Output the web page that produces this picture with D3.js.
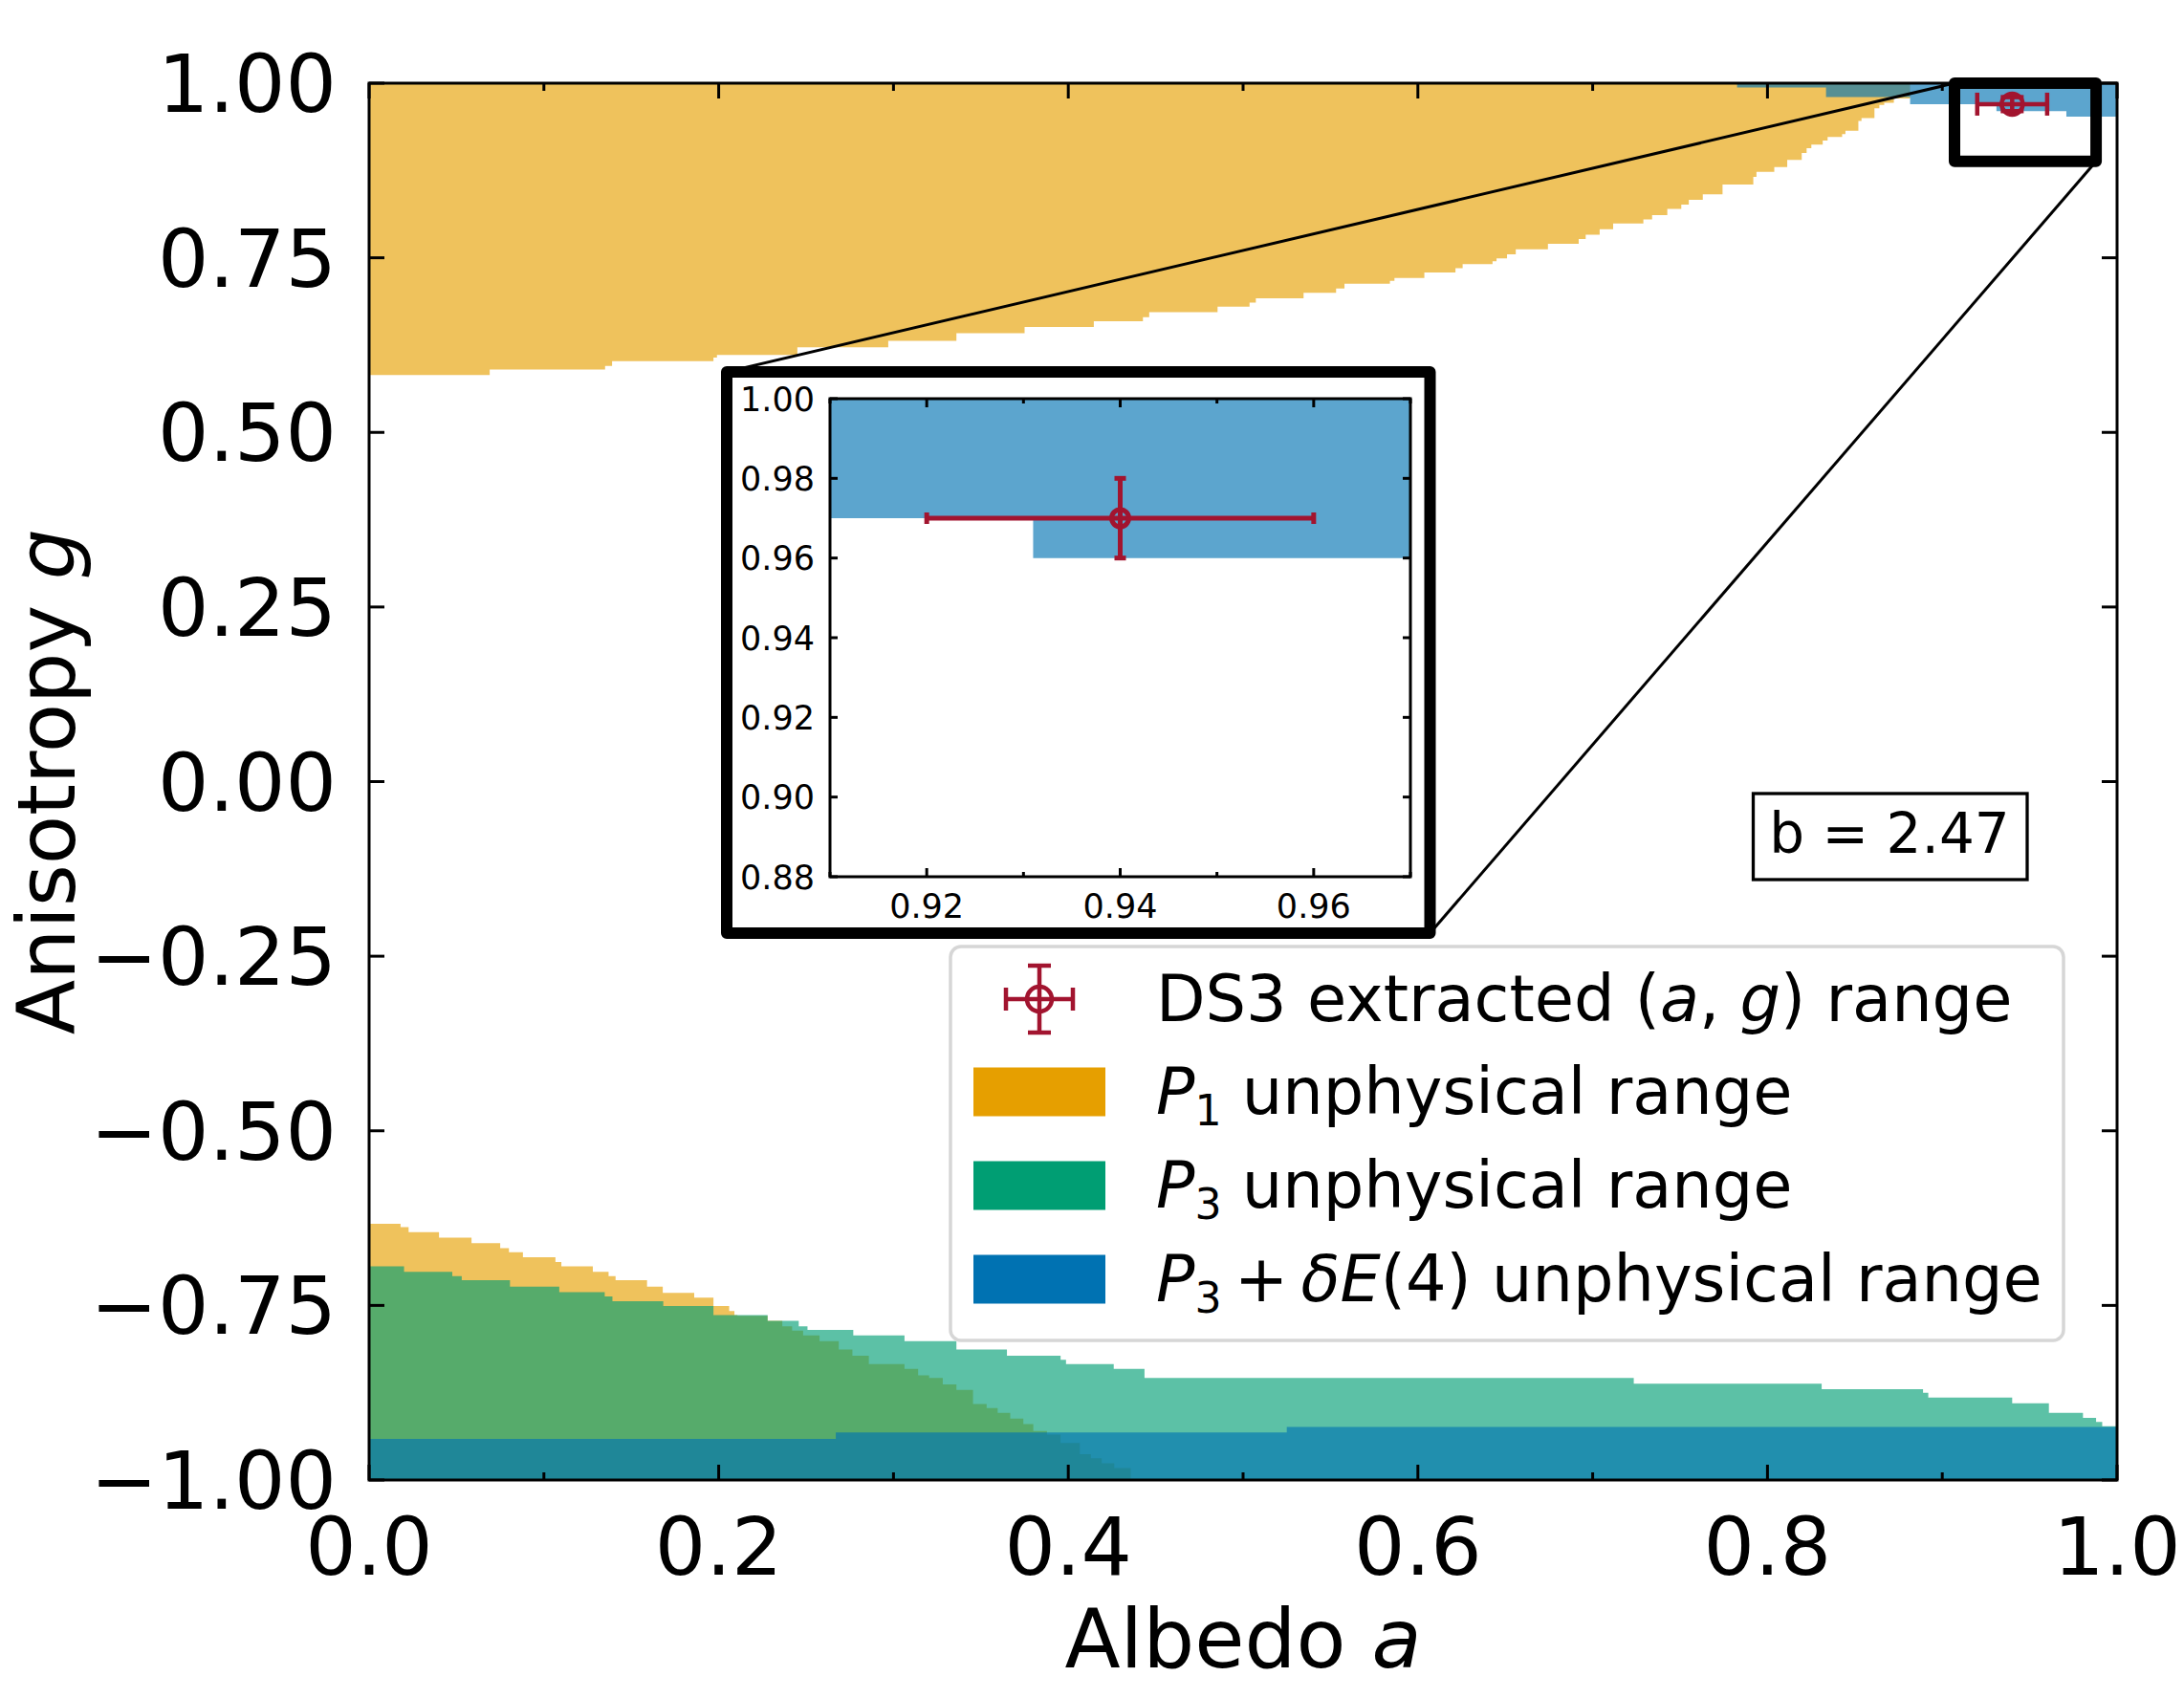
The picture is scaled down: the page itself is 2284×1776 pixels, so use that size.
<!DOCTYPE html>
<html><head><meta charset="utf-8">
<script src="https://cdn.jsdelivr.net/npm/d3@7"></script>
<style>body{margin:0;background:#fff}svg{display:block}text{font-family:'DejaVu Sans',sans-serif;fill:#000}</style>
</head><body>
<svg id="c" width="2284" height="1776"></svg>
<script>
// ---------------- data ----------------
const xTicksMajor = [0, 0.2, 0.4, 0.6, 0.8, 1.0];
const xTicksMinor = [0.1, 0.3, 0.5, 0.7, 0.9];
const yTicks = [-1, -0.75, -0.5, -0.25, 0, 0.25, 0.5, 0.75, 1];
const insetXTicks = [0.91, 0.92, 0.93, 0.94, 0.95, 0.96, 0.97];
const insetXLabels = [0.92, 0.94, 0.96];
const insetYTicks = [0.88, 0.90, 0.92, 0.94, 0.96, 0.98, 1.00];

// P1 unphysical: upper region (boundary -> g = 1)
const p1UpperA = [0, 0.069, 0.135, 0.139, 0.197, 0.199, 0.245, 0.297, 0.336, 0.375, 0.4146, 0.4427, 0.4463, 0.4854, 0.5037, 0.5073, 0.5346, 0.5532, 0.558, 0.584, 0.5866, 0.6037, 0.6215, 0.6256, 0.6427, 0.645, 0.651, 0.656, 0.6744, 0.692, 0.696, 0.704, 0.7117, 0.729, 0.734, 0.7427, 0.7507, 0.755, 0.763, 0.7743, 0.7919, 0.7937, 0.8039, 0.8113, 0.8196, 0.8224, 0.8251, 0.8316, 0.8344, 0.8427, 0.8446, 0.852, 0.8538, 0.8612, 0.864, 0.8668, 0.8723, 0.8816];
const p1UpperG = [0.582, 0.590, 0.595, 0.602, 0.607, 0.611, 0.622, 0.631, 0.642, 0.651, 0.659, 0.665, 0.672, 0.680, 0.686, 0.692, 0.700, 0.706, 0.713, 0.717, 0.721, 0.729, 0.735, 0.741, 0.745, 0.749, 0.755, 0.762, 0.770, 0.777, 0.783, 0.791, 0.799, 0.805, 0.811, 0.820, 0.826, 0.833, 0.841, 0.855, 0.866, 0.873, 0.880, 0.890, 0.900, 0.907, 0.912, 0.918, 0.923, 0.927, 0.932, 0.946, 0.950, 0.964, 0.969, 0.972, 0.978, 1.0];
// P1 unphysical: lower region (g = -1 -> boundary)
const p1LowerA = [0, 0.018, 0.0226, 0.040, 0.0586, 0.075, 0.080, 0.088, 0.1066, 0.110, 0.128, 0.137, 0.141, 0.159, 0.168, 0.186, 0.197, 0.206, 0.209, 0.2107, 0.228, 0.2364, 0.242, 0.2483, 0.2577, 0.2687, 0.2765, 0.2859, 0.3063, 0.3141, 0.3204, 0.3282, 0.336, 0.3455, 0.3533, 0.3596, 0.3668, 0.3743, 0.38, 0.3878, 0.3956, 0.4066, 0.4129, 0.4191, 0.4263, 0.4357];
const p1LowerG = [-0.633, -0.638, -0.645, -0.653, -0.661, -0.668, -0.674, -0.681, -0.688, -0.694, -0.702, -0.708, -0.714, -0.723, -0.732, -0.739, -0.751, -0.758, -0.764, -0.765, -0.772, -0.780, -0.786, -0.793, -0.801, -0.813, -0.822, -0.834, -0.841, -0.850, -0.854, -0.863, -0.871, -0.891, -0.897, -0.904, -0.912, -0.920, -0.930, -0.935, -0.947, -0.963, -0.969, -0.976, -0.983, -1.0];
// P3 unphysical: lower region
const p3LowerA = [0, 0.020, 0.0476, 0.053, 0.0806, 0.1088, 0.1348, 0.1392, 0.1683, 0.197, 0.228, 0.2458, 0.2508, 0.277, 0.3063, 0.336, 0.3649, 0.3956, 0.3987, 0.426, 0.4436, 0.7235, 0.831, 0.889, 0.892, 0.940, 0.961, 0.9805, 0.988, 0.9915];
const p3LowerG = [-0.694, -0.702, -0.708, -0.714, -0.723, -0.731, -0.737, -0.744, -0.751, -0.764, -0.772, -0.780, -0.785, -0.793, -0.801, -0.813, -0.822, -0.828, -0.834, -0.841, -0.854, -0.862, -0.870, -0.875, -0.882, -0.890, -0.904, -0.911, -0.917, -0.923];
// P3 + dE(4) unphysical
const dEUpperA = [0.7826, 0.8335, 0.8816, 0.931, 0.971];
const dEUpperG = [0.994, 0.980, 0.970, 0.960, 0.952];
const dELowerA = [0, 0.267, 0.525];
const dELowerG = [-0.941, -0.932, -0.924];

// DS3 extracted point
const ds3A = 0.94, ds3G = 0.97, ds3AErr = 0.02, ds3GErr = 0.01;
// zoom indicator box (data coords)
const zoomA = [0.907, 0.988];
const zoomG = [0.888, 1.0];

const bText = "b = 2.47";

const cOrange = "#E69F00", cGreen = "#009E73", cBlue = "#0072B2", cRed = "#A2142F";
const fillAlpha = 0.64;

// ---------------- scales ----------------
const svg = d3.select('#c');
const x = d3.scaleLinear().domain([0, 1]).range([386, 2214]);
const y = d3.scaleLinear().domain([-1, 1]).range([1548, 87]);
const ix = d3.scaleLinear().domain([0.91, 0.97]).range([868, 1475]);
const iy = d3.scaleLinear().domain([0.88, 1.0]).range([917, 417]);

const defs = svg.append('defs');
defs.append('clipPath').attr('id', 'clipMain').append('rect')
  .attr('x', x(0)).attr('y', y(1)).attr('width', x(1) - x(0)).attr('height', y(-1) - y(1));
defs.append('clipPath').attr('id', 'clipInset').append('rect')
  .attr('x', ix(0.91)).attr('y', iy(1)).attr('width', ix(0.97) - ix(0.91)).attr('height', iy(0.88) - iy(1));

function stepPts(A, G, end) {
  const p = A.map((a, i) => [a, G[i]]);
  p.push([end, G[G.length - 1]]);
  return p;
}
function drawFills(g, xs, ys) {
  const up = d3.area().curve(d3.curveStepAfter).x(d => xs(d[0])).y0(d => ys(d[1])).y1(() => ys(1));
  const lo = d3.area().curve(d3.curveStepAfter).x(d => xs(d[0])).y0(() => ys(-1)).y1(d => ys(d[1]));
  g.append('path').attr('d', up(stepPts(p1UpperA, p1UpperG, 1))).attr('fill', cOrange).attr('fill-opacity', fillAlpha);
  g.append('path').attr('d', lo(stepPts(p1LowerA, p1LowerG, p1LowerA[p1LowerA.length - 1]))).attr('fill', cOrange).attr('fill-opacity', fillAlpha);
  g.append('path').attr('d', lo(stepPts(p3LowerA, p3LowerG, 1))).attr('fill', cGreen).attr('fill-opacity', fillAlpha);
  g.append('path').attr('d', lo(stepPts(dELowerA, dELowerG, 1))).attr('fill', cBlue).attr('fill-opacity', fillAlpha);
  g.append('path').attr('d', up(stepPts(dEUpperA, dEUpperG, 1))).attr('fill', cBlue).attr('fill-opacity', fillAlpha);
}
function errorbar(g, cx, cy, x0, x1, y0, y1, cap, r, sw) {
  g.append('line').attr('x1', x0).attr('x2', x1).attr('y1', cy).attr('y2', cy);
  g.append('line').attr('x1', cx).attr('x2', cx).attr('y1', y0).attr('y2', y1);
  [x0, x1].forEach(v => g.append('line').attr('x1', v).attr('x2', v).attr('y1', cy - cap).attr('y2', cy + cap));
  [y0, y1].forEach(v => g.append('line').attr('x1', cx - cap).attr('x2', cx + cap).attr('y1', v).attr('y2', v));
  g.selectAll('line').attr('stroke', cRed).attr('stroke-width', sw);
  g.append('circle').attr('cx', cx).attr('cy', cy).attr('r', r).attr('fill', 'none').attr('stroke', cRed).attr('stroke-width', sw);
}

// ---------------- main fills ----------------
drawFills(svg.append('g').attr('clip-path', 'url(#clipMain)'), x, y);

// ---------------- main axes ----------------
const ax = svg.append('g').attr('stroke', '#000').attr('stroke-width', 3);
ax.append('rect').attr('x', x(0)).attr('y', y(1)).attr('width', x(1) - x(0)).attr('height', y(-1) - y(1)).attr('fill', 'none');
xTicksMajor.forEach(v => {
  ax.append('line').attr('x1', x(v)).attr('x2', x(v)).attr('y1', y(-1)).attr('y2', y(-1) - 16);
  ax.append('line').attr('x1', x(v)).attr('x2', x(v)).attr('y1', y(1)).attr('y2', y(1) + 16);
});
xTicksMinor.forEach(v => {
  ax.append('line').attr('x1', x(v)).attr('x2', x(v)).attr('y1', y(-1)).attr('y2', y(-1) - 8);
  ax.append('line').attr('x1', x(v)).attr('x2', x(v)).attr('y1', y(1)).attr('y2', y(1) + 8);
});
yTicks.forEach(v => {
  ax.append('line').attr('x1', x(0)).attr('x2', x(0) + 16).attr('y1', y(v)).attr('y2', y(v));
  ax.append('line').attr('x1', x(1)).attr('x2', x(1) - 16).attr('y1', y(v)).attr('y2', y(v));
});
const fx = d3.format('.1f'), fy = d3.format('.2f');
svg.append('g').selectAll('text').data(xTicksMajor).join('text')
  .attr('x', d => x(d)).attr('y', 1647).attr('text-anchor', 'middle').attr('font-size', 84).text(d => fx(d));
svg.append('g').selectAll('text').data(yTicks).join('text')
  .attr('x', 352).attr('y', d => y(d) + 30).attr('text-anchor', 'end').attr('font-size', 84).text(d => fy(d));

const xl = svg.append('text').attr('x', x(0.5)).attr('y', 1744).attr('text-anchor', 'middle').attr('font-size', 85);
xl.append('tspan').text('Albedo ');
xl.append('tspan').attr('font-style', 'italic').text('a');
const yl = svg.append('text').attr('transform', `translate(78,${(y(1) + y(-1)) / 2}) rotate(-90)`).attr('text-anchor', 'middle').attr('font-size', 84);
yl.append('tspan').text('Anisotropy ');
yl.append('tspan').attr('font-style', 'italic').text('g');

// ---------------- inset frame geometry ----------------
const frame = {x: 760, y: 389, w: 735.5, h: 587};

// connectors
svg.append('line').attr('x1', x(zoomA[0])).attr('y1', y(zoomG[1])).attr('x2', frame.x).attr('y2', frame.y)
  .attr('stroke', '#000').attr('stroke-width', 3);
svg.append('line').attr('x1', x(zoomA[1])).attr('y1', y(zoomG[0])).attr('x2', frame.x + frame.w).attr('y2', frame.y + frame.h)
  .attr('stroke', '#000').attr('stroke-width', 3);
// zoom box
svg.append('rect').attr('x', x(zoomA[0])).attr('y', y(zoomG[1])).attr('width', x(zoomA[1]) - x(zoomA[0])).attr('height', y(zoomG[0]) - y(zoomG[1]))
  .attr('fill', 'none').attr('stroke', '#000').attr('stroke-width', 12).attr('stroke-linejoin', 'round');

// main error bar
errorbar(svg.append('g'), x(ds3A), y(ds3G), x(ds3A - ds3AErr), x(ds3A + ds3AErr), y(ds3G + ds3GErr), y(ds3G - ds3GErr), 12, 11, 4.5);

// ---------------- inset ----------------
svg.append('rect').attr('x', frame.x).attr('y', frame.y).attr('width', frame.w).attr('height', frame.h)
  .attr('fill', '#fff').attr('stroke', '#000').attr('stroke-width', 12).attr('stroke-linejoin', 'round');
drawFills(svg.append('g').attr('clip-path', 'url(#clipInset)'), ix, iy);
errorbar(svg.append('g').attr('clip-path', 'url(#clipInset)'), ix(ds3A), iy(ds3G), ix(ds3A - ds3AErr), ix(ds3A + ds3AErr), iy(ds3G + ds3GErr), iy(ds3G - ds3GErr), 6, 9, 5);
const iax = svg.append('g').attr('stroke', '#000').attr('stroke-width', 3);
iax.append('rect').attr('x', ix(0.91)).attr('y', iy(1)).attr('width', ix(0.97) - ix(0.91)).attr('height', iy(0.88) - iy(1)).attr('fill', 'none');
insetXTicks.forEach(v => {
  const L = insetXLabels.some(t => Math.abs(t - v) < 1e-9) ? 9 : 5;
  iax.append('line').attr('x1', ix(v)).attr('x2', ix(v)).attr('y1', iy(0.88)).attr('y2', iy(0.88) - L);
  iax.append('line').attr('x1', ix(v)).attr('x2', ix(v)).attr('y1', iy(1)).attr('y2', iy(1) + L);
});
insetYTicks.forEach(v => {
  iax.append('line').attr('x1', ix(0.91)).attr('x2', ix(0.91) + 8).attr('y1', iy(v)).attr('y2', iy(v));
  iax.append('line').attr('x1', ix(0.97)).attr('x2', ix(0.97) - 8).attr('y1', iy(v)).attr('y2', iy(v));
});
svg.append('g').selectAll('text').data(insetXLabels).join('text')
  .attr('x', d => ix(d)).attr('y', 960).attr('text-anchor', 'middle').attr('font-size', 35).text(d => fy(d));
svg.append('g').selectAll('text').data(insetYTicks).join('text')
  .attr('x', 852).attr('y', d => iy(d) + 12.5).attr('text-anchor', 'end').attr('font-size', 35).text(d => fy(d));

// ---------------- legend ----------------
const lg = svg.append('g');
lg.append('rect').attr('x', 994).attr('y', 990).attr('width', 1164).attr('height', 412).attr('rx', 11)
  .attr('fill', '#fff').attr('stroke', '#d6d6d6').attr('stroke-width', 3.5);
const rowY = [1045, 1142, 1240, 1338];
errorbar(lg.append('g'), 1087, rowY[0], 1052, 1122, 1010, 1080, 12, 13, 4.5);
[cOrange, cGreen, cBlue].forEach((c, i) => {
  lg.append('rect').attr('x', 1018).attr('y', rowY[i + 1] - 25.5).attr('width', 138).attr('height', 51).attr('fill', c);
});
const lfs = 67;
function rich(g, yy, parts) {
  const t = g.append('text').attr('x', 1209).attr('y', yy).attr('font-size', lfs);
  let shifted = 0;
  parts.forEach(p => {
    const s = t.append('tspan').text(p.t);
    if (p.it) s.attr('font-style', 'italic');
    let target = p.sub ? 12 : 0;
    if (target !== shifted) { s.attr('dy', target - shifted); shifted = target; }
    if (p.sub) s.attr('font-size', lfs * 0.66);
  });
}
rich(lg, rowY[0] + 23, [{t: 'DS3 extracted ('}, {t: 'a', it: 1}, {t: ', '}, {t: 'g', it: 1}, {t: ') range'}]);
rich(lg, rowY[1] + 23, [{t: 'P', it: 1}, {t: '1', sub: 1}, {t: ' unphysical range'}]);
rich(lg, rowY[2] + 23, [{t: 'P', it: 1}, {t: '3', sub: 1}, {t: ' unphysical range'}]);
rich(lg, rowY[3] + 23, [{t: 'P', it: 1}, {t: '3', sub: 1}, {t: '\u2009+\u2009'}, {t: 'δE', it: 1}, {t: '(4) unphysical range'}]);

// ---------------- b box ----------------
svg.append('rect').attr('x', 1833.5).attr('y', 830).attr('width', 286.5).attr('height', 90)
  .attr('fill', '#fff').attr('stroke', '#000').attr('stroke-width', 3.3);
svg.append('text').attr('x', 1976).attr('y', 892).attr('text-anchor', 'middle').attr('font-size', 58).text(bText);
</script>
</body></html>
